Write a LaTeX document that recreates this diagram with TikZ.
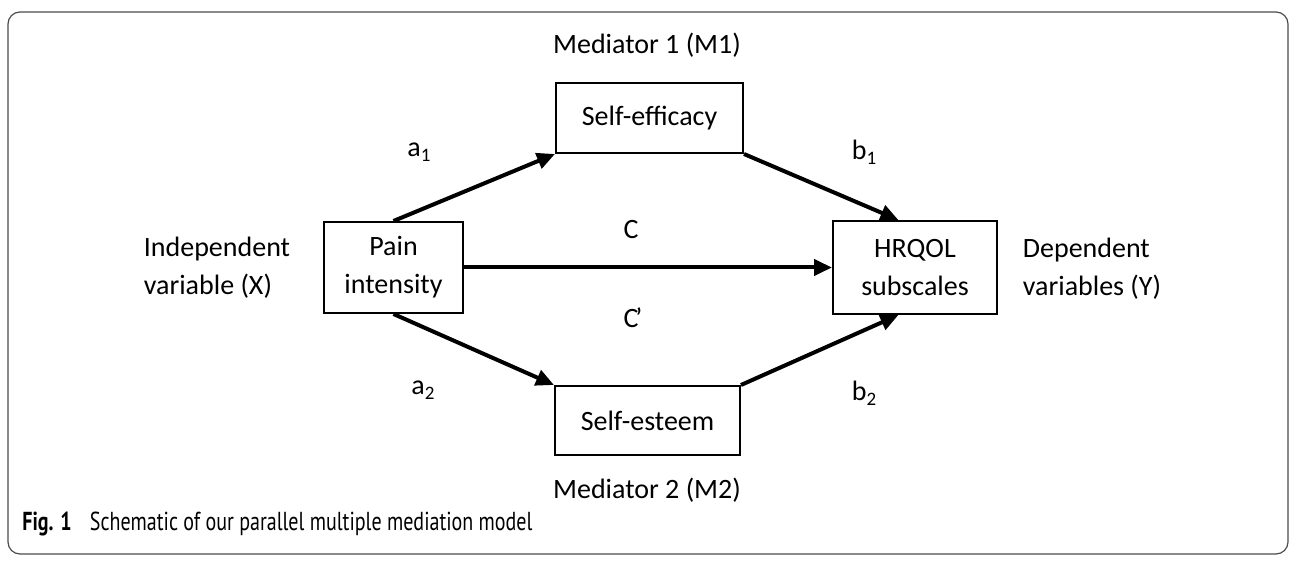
\documentclass[tikz,border=0pt]{standalone}
\usepackage{fontspec}
\setmainfont{Carlito}
\newfontfamily\capfont[FakeStretch=0.77]{PT Sans}
\usetikzlibrary{arrows.meta,calc}
\tikzset{
  box/.style={draw, line width=1pt, inner sep=0pt, align=center, font=\fontsize{14}{19}\selectfont},
  lbl/.style={align=left, inner sep=0pt, font=\fontsize{14}{19}\selectfont},
  conn/.style={line width=2pt, -{Triangle[length=9pt,width=8pt]}},
}
\newcommand{\mysub}[1]{\raisebox{-2.5pt}{\fontsize{9.5}{10}\selectfont #1}}
\begin{document}
\begin{tikzpicture}[x=0.5pt,y=-0.5pt]
\useasboundingbox (0,0) rectangle (1296,565);
\draw[line width=0.6pt, color=black!70, rounded corners=6pt] (8,12) rectangle (1288,554);
% boxes
\node[box, minimum width=69.5pt, minimum height=45.5pt] (pain) at (393.5,267.5) {Pain\\intensity};
\node[box, minimum width=93.5pt, minimum height=35pt] (eff) at (649.5,118) {Self-efficacy};
\node[box, minimum width=92.5pt, minimum height=34.5pt] (est) at (647.5,420.5) {Self-esteem};
\node[box, minimum width=82pt, minimum height=46.5pt] (hrq) at (915,267.5) {HRQOL\\subscales};
% labels
\node[lbl] (m1) at (647,45) {Mediator 1 (M1)};
\node[lbl] (m2) at (647,490) {Mediator 2 (M2)};
\node[lbl] (iv) at (217,267.5) {Independent\\variable (X)};
\node[lbl] (dv) at (1092,269) {Dependent\\variables (Y)};
\node[lbl] (la1) at (419,152) {a\mysub{1}};
\node[lbl] (la2) at (423,390) {a\mysub{2}};
\node[lbl] (lb1) at (864,152) {b\mysub{1}};
\node[lbl] (lb2) at (864,393) {b\mysub{2}};
\node[lbl] (lc) at (631,230) {C};
\node[lbl] (lcp) at (633,318) {C\kern-1.5pt’};
% connectors
\coordinate (hrqtop) at ($(hrq.north west)!0.4!(hrq.north east)$);
\coordinate (hrqbot) at ($(hrq.south west)!0.4!(hrq.south east)$);
\draw[conn] (pain.north) -- (eff.south west);
\draw[conn] (eff.south east) -- (hrqtop);
\draw[conn] (pain.east) -- (hrq.west);
\draw[conn] (pain.south) -- (est.north west);
\draw[conn] (est.north east) -- (hrqbot);
% caption
\node[anchor=west, inner sep=0pt, font=\capfont\fontsize{13}{15}\selectfont] (cap) at (22,524) {\textbf{Fig. 1}\hspace{0.7em}Schematic of our parallel multiple mediation model};
\end{tikzpicture}
\end{document}
